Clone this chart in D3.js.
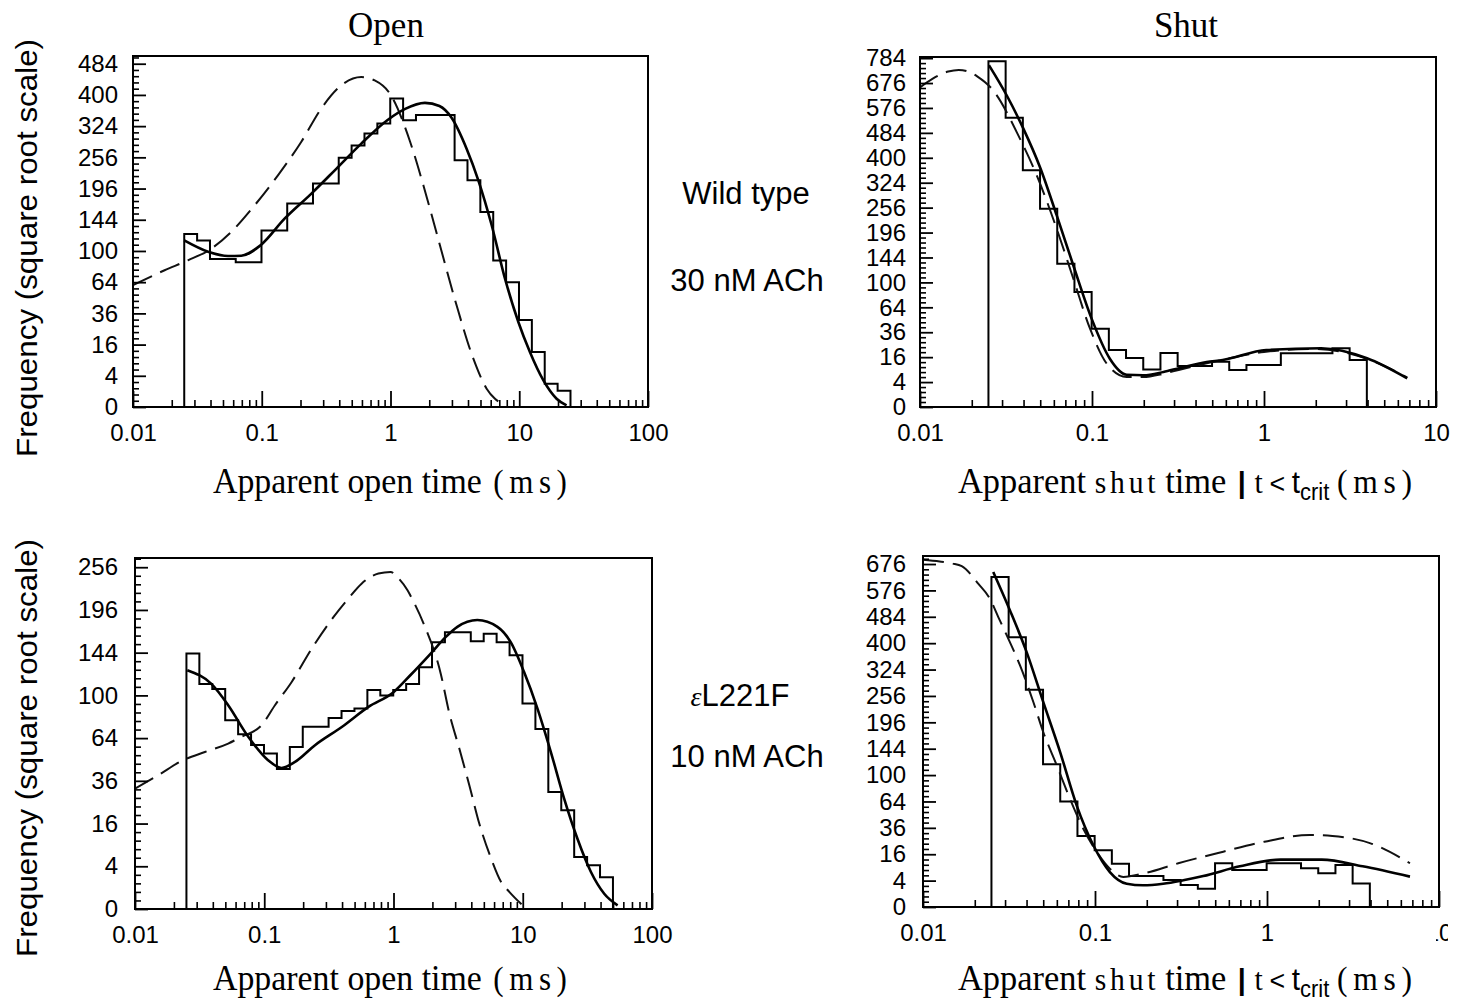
<!DOCTYPE html>
<html>
<head>
<meta charset="utf-8">
<script src="https://cdn.jsdelivr.net/npm/d3@7"></script>
<style>
  body { margin: 0; background: #fff; }
  svg { display: block; }
</style>
</head>
<body>
<svg id="fig" width="1470" height="1004"></svg>
<script>
// Lower edges of the histogram bins (ms): 10 bins per decade starting at the 25 µs resolution
const binEdges = [0.025, 0.03147, 0.03962, 0.04988, 0.06279, 0.07906, 0.09953, 0.1253, 0.1577, 0.1986,
  0.25, 0.3147, 0.3962, 0.4988, 0.6279, 0.7906, 0.9953, 1.253, 1.577, 1.986,
  2.5, 3.147, 3.962, 4.988, 6.279, 7.906, 9.953, 12.53, 15.77, 19.86,
  25, 31.47, 39.62, 49.88, 62.79];

// Tick values
const xTicksOpen = [0.01, 0.1, 1, 10, 100];
const xTicksShut = [0.01, 0.1, 1, 10];
const yTicksOpenWT = [0, 4, 16, 36, 64, 100, 144, 196, 256, 324, 400, 484];
const yTicksShutWT = [0, 4, 16, 36, 64, 100, 144, 196, 256, 324, 400, 484, 576, 676, 784];
const yTicksOpenMut = [0, 4, 16, 36, 64, 100, 144, 196, 256];
const yTicksShutMut = [0, 4, 16, 36, 64, 100, 144, 196, 256, 324, 400, 484, 576, 676];

// Wild type, 30 nM ACh — apparent open times
const openWTCounts = [123, 114, 90, 90, 86, 86, 128, 128, 170, 170, 205, 205, 255, 281, 307, 330, 391, 338,
  350, 350, 350, 250, 211, 156, 88, 64, 31, 12.4, 2.2, 1.1];
const openWTFit = [[0.025, 114], [0.0383, 99], [0.0547, 93.7], [0.0694, 94], [0.098, 107.5], [0.151, 146],
  [0.243, 187], [0.379, 233], [0.593, 285], [0.955, 339], [1.3, 365], [1.85, 380], [2.4, 372], [2.99, 343],
  [3.9, 274], [4.81, 211], [6.1, 136], [7.75, 67.6], [9.84, 29.7], [12.1, 12.4], [15.4, 2.9], [19.5, 0.28], [23.3, 0.01]];
const openWTPred = [[0.01, 61], [0.0176, 76.8], [0.0267, 88.4], [0.0406, 103], [0.058, 126], [0.088, 167],
  [0.134, 221], [0.203, 289], [0.29, 366], [0.415, 425], [0.593, 447], [0.754, 438], [0.99, 403], [1.42, 289],
  [1.8, 202], [2.42, 107.5], [3.26, 42.5], [4.4, 9.6], [5.58, 1.38], [6.48, 0.28], [7.75, 0.016]];

// Wild type — apparent shut times (t < tcrit)
const shutWTCounts = [770, 539, 361, 253, 132, 85, 39.5, 21, 15.5, 9, 18.7, 10.8, 10.8, 13.2, 8.8, 11.4,
  11.4, 18.6, 18.6, 18.6, 22.2, 14.2];
const shutWTFit = [[0.0252, 752], [0.0319, 626], [0.0399, 499], [0.0498, 371], [0.0623, 237], [0.0779, 129],
  [0.0996, 50], [0.127, 15], [0.159, 6.7], [0.199, 6.5], [0.26, 7.9], [0.324, 9.8], [0.464, 13], [0.575, 14.2],
  [1.03, 20.9], [2.15, 22.2], [3.97, 15.3], [6.8, 5.3]];
const shutWTPred = [[0.01, 658], [0.0118, 693], [0.0146, 725], [0.0168, 732], [0.0195, 722], [0.0216, 703],
  [0.0261, 653], [0.0381, 464], [0.0477, 346], [0.0623, 205], [0.0779, 106], [0.0974, 39.5], [0.122, 12],
  [0.159, 5.8], [0.198, 5.8], [0.259, 7.1], [0.3, 8.3], [0.5, 13], [1, 19.5], [2, 21.7], [4, 14.8], [6.8, 5.6]];

// εL221F, 10 nM ACh — apparent open times
const openMutCounts = [143, 111, 106, 78, 67, 59, 53, 43, 57.6, 72.7, 72.7, 80, 86, 88, 105, 100, 105, 111,
  128, 156, 168, 168, 157, 166, 156, 141, 92.5, 71, 30, 21.4, 5.9, 4.2, 2.2];
const openMutFit = [[0.0254, 125], [0.039, 111], [0.0526, 91], [0.0752, 65], [0.107, 48.5], [0.136, 43.6],
  [0.173, 47.4], [0.247, 58.8], [0.398, 72.6], [0.64, 89.5], [1.0, 103], [1.355, 120], [1.94, 143], [2.53, 162],
  [3.12, 174.5], [4.45, 183], [6.37, 174.5], [8.07, 156], [10.24, 123], [13, 88], [16.5, 54], [20.9, 26.7],
  [26.5, 10.8], [33.7, 3], [42.7, 0.51], [54.2, 0.03]];
const openMutPred = [[0.01, 31.7], [0.0151, 39.2], [0.0235, 48.5], [0.0347, 54], [0.0526, 60], [0.0667, 65],
  [0.0953, 74], [0.121, 91], [0.163, 113], [0.233, 148.6], [0.344, 187], [0.446, 211], [0.566, 232],
  [0.765, 246.7], [0.948, 249], [1.09, 240], [1.28, 223], [1.43, 207], [1.71, 178.6], [2.32, 121.4],
  [2.69, 85], [3.23, 56.4], [3.86, 33.6], [4.61, 16], [5.69, 5.6], [6.8, 1.6], [7.9, 0.63], [9.97, 0.03]];

// εL221F — apparent shut times (t < tcrit)
const shutMutCounts = [626, 418, 271, 117, 64, 29, 18.5, 10.8, 5.5, 5.5, 4.2, 2.8, 1.9, 11, 7.9, 7.9, 11, 11,
  8.6, 6.5, 10.1, 3.2];
const shutMutFit = [[0.0256, 645], [0.032, 506], [0.04, 374], [0.05, 241.6], [0.0627, 138], [0.0782, 59.4],
  [0.0978, 21.9], [0.122, 7], [0.153, 3.1], [0.19, 2.7], [0.249, 3.1], [0.326, 4.1], [0.426, 5.5], [0.695, 9.5],
  [1.2, 12.9], [2.08, 12.9], [3.6, 9.5], [6.78, 5.3]];
const shutMutPred = [[0.01, 693], [0.0125, 686], [0.0148, 678], [0.0168, 668], [0.021, 600], [0.0245, 546],
  [0.0274, 483], [0.0307, 424], [0.0366, 336], [0.0438, 241.6], [0.05, 176], [0.06, 115], [0.0715, 67.4],
  [0.0855, 35.2], [0.1024, 17.4], [0.122, 8.4], [0.146, 5.2], [0.19, 6.4], [0.305, 11], [0.557, 17.6],
  [0.965, 24.5], [1.77, 29.8], [2.4, 29], [4.0, 23.3], [6.78, 11]];

// Layout of the four panels
const panels = [
  { key: "oWT", box: { l: 133, r: 648, t: 56, b: 407 }, xMax: 100, yMax: 506, xTicks: xTicksOpen, yTicks: yTicksOpenWT,
    counts: openWTCounts, fit: openWTFit, pred: openWTPred, yPad: 15 },
  { key: "sWT", box: { l: 920, r: 1436, t: 57, b: 407 }, xMax: 10, yMax: 789, xTicks: xTicksShut, yTicks: yTicksShutWT,
    counts: shutWTCounts, fit: shutWTFit, pred: shutWTPred, yPad: 14 },
  { key: "oMut", box: { l: 135, r: 652, t: 558, b: 909 }, xMax: 100, yMax: 270, xTicks: xTicksOpen, yTicks: yTicksOpenMut,
    counts: openMutCounts, fit: openMutFit, pred: openMutPred, yPad: 17 },
  { key: "sMut", box: { l: 923, r: 1439, t: 556, b: 907 }, xMax: 10, yMax: 708, xTicks: xTicksShut, yTicks: yTicksShutMut,
    counts: shutMutCounts, fit: shutMutFit, pred: shutMutPred, yPad: 17, clipLastLabel: true }
];

const svg = d3.select("#fig");
const defs = svg.append("defs");
const SANS = "'Liberation Sans', Arial, Helvetica, sans-serif";
const SERIF = "'Liberation Serif', 'Times New Roman', serif";

function histPoints(counts) {
  const pts = [[binEdges[0], 0]];
  counts.forEach((c, i) => { pts.push([binEdges[i], c]); pts.push([binEdges[i + 1], c]); });
  pts.push([binEdges[counts.length], 0]);
  return pts;
}

panels.forEach(p => {
  const { l, r, t, b } = p.box;
  const x = d3.scaleLog().domain([0.01, p.xMax]).range([l, r]);
  const y = d3.scaleSqrt().domain([0, p.yMax]).range([b, t]);
  const g = svg.append("g");

  defs.append("clipPath").attr("id", "clip-" + p.key)
    .append("rect").attr("x", l).attr("y", t).attr("width", r - l).attr("height", b - t);

  const line = d3.line().x(d => x(d[0])).y(d => y(d[1]));
  const smooth = d3.line().x(d => x(d[0])).y(d => y(d[1])).curve(d3.curveMonotoneX);

  const plot = g.append("g").attr("clip-path", `url(#clip-${p.key})`);

  // histogram of observed intervals
  plot.append("path").attr("d", line(histPoints(p.counts)))
    .attr("fill", "none").attr("stroke", "#000").attr("stroke-width", 2)
    .attr("stroke-linejoin", "miter");
  // predicted distribution (dashed)
  plot.append("path").attr("d", smooth(p.pred))
    .attr("fill", "none").attr("stroke", "#111").attr("stroke-width", 2)
    .attr("stroke-dasharray", "21,9");
  // fitted distribution (solid)
  plot.append("path").attr("d", smooth(p.fit))
    .attr("fill", "none").attr("stroke", "#000").attr("stroke-width", 2.6);

  // frame
  g.append("rect").attr("x", l).attr("y", t).attr("width", r - l).attr("height", b - t)
    .attr("fill", "none").attr("stroke", "#000").attr("stroke-width", 2);

  // x axis: minor log ticks pointing inward
  const minorX = [];
  for (let d = 0.01; d < p.xMax * 0.999; d *= 10) {
    for (let m = 2; m <= 9; m++) minorX.push(+(m * d).toPrecision(3));
  }
  const xMinorAxis = d3.axisBottom(x).tickValues(minorX).tickSize(-7).tickFormat("");
  g.append("g").attr("transform", `translate(0,${b})`).call(xMinorAxis)
    .call(s => s.select(".domain").remove())
    .selectAll("line").attr("stroke-width", 1.6);

  const xAxis = d3.axisBottom(x).tickValues(p.xTicks).tickSize(-16).tickPadding(17)
    .tickFormat(d => d >= 1 ? d3.format("d")(d) : String(d));
  const xg = g.append("g").attr("transform", `translate(0,${b})`).call(xAxis);
  xg.select(".domain").remove();
  xg.selectAll("line").attr("stroke-width", 1.8);
  xg.selectAll("text").attr("font-family", SANS).attr("font-size", 24).attr("fill", "#000");
  if (p.clipLastLabel) {
    // the last label of this axis is cut by the right edge
    defs.append("clipPath").attr("id", "clip-lbl-" + p.key)
      .append("rect").attr("x", r - 3).attr("y", b).attr("width", 12).attr("height", 50);
    xg.selectAll(".tick").filter(d => d === p.xMax).select("text").remove();
    g.append("g").attr("clip-path", `url(#clip-lbl-${p.key})`)
      .append("text").attr("x", x(p.xMax)).attr("y", b + 17).attr("dy", "0.71em")
      .attr("text-anchor", "middle").attr("font-family", SANS).attr("font-size", 24).text("10");
  }

  // y axis: sqrt-spaced minor ticks, four between each labelled value
  const minorY = [];
  const sq = p.yTicks.map(Math.sqrt);
  const step = sq[1] - sq[0];
  for (let s = 0; s <= Math.sqrt(p.yMax) + 1e-9; s += step / 5) {
    const v = s * s;
    if (!p.yTicks.some(tk => Math.abs(Math.sqrt(tk) - s) < 1e-6)) minorY.push(v);
  }
  const yMinorAxis = d3.axisLeft(y).tickValues(minorY).tickSize(-6).tickFormat("");
  g.append("g").attr("transform", `translate(${l},0)`).call(yMinorAxis)
    .call(s => s.select(".domain").remove())
    .selectAll("line").attr("stroke-width", 1.6);

  const yAxis = d3.axisLeft(y).tickValues(p.yTicks).tickSize(-13).tickPadding(p.yPad).tickFormat(d3.format("d"));
  const yg = g.append("g").attr("transform", `translate(${l},0)`).call(yAxis);
  yg.select(".domain").remove();
  yg.selectAll("line").attr("stroke-width", 1.8);
  yg.selectAll("text").attr("font-family", SANS).attr("font-size", 24).attr("fill", "#000");
});

// Column titles
svg.append("text").attr("x", 386).attr("y", 37).attr("text-anchor", "middle")
  .attr("font-family", SERIF).attr("font-size", 35).text("Open");
svg.append("text").attr("x", 1186).attr("y", 37).attr("text-anchor", "middle")
  .attr("font-family", SERIF).attr("font-size", 35).text("Shut");

// Y axis titles
[248, 748].forEach(cy => {
  svg.append("text").attr("transform", `translate(37,${cy}) rotate(-90)`)
    .attr("text-anchor", "middle").attr("font-family", SANS).attr("font-size", 30)
    .attr("textLength", 418).attr("lengthAdjust", "spacingAndGlyphs")
    .text("Frequency (square root scale)");
});

// X axis titles: words laid out one after another, then the whole row is condensed to its width
function titleRow(x0, base, width, pieces) {
  const g = svg.append("g");
  let cx = 0;
  pieces.forEach((pc, i) => {
    const t = g.append("text").attr("x", cx).attr("y", pc.dy || 0)
      .attr("font-family", pc.family || SERIF).attr("font-size", pc.size || 36)
      .text(pc.text);
    if (pc.weight) t.attr("font-weight", pc.weight);
    if (pc.ls) t.attr("letter-spacing", pc.ls);
    const w = t.node().getComputedTextLength() - (pc.ls || 0);
    cx += w + (i < pieces.length - 1 ? (pc.gap || 0) : 0);
  });
  g.attr("transform", `translate(${x0},${base}) scale(${width / cx},1)`);
}
const openPieces = [
  { text: "Apparent open time", gap: 12 },
  { text: "(ms)", size: 33, ls: 6 }
];
const shutPieces = [
  { text: "Apparent", gap: 9 },
  { text: "shut", size: 31, ls: 4, gap: 10 },
  { text: "time", gap: 12 },
  { text: "|", family: SANS, size: 30, weight: "bold", gap: 9 },
  { text: "t", size: 31, gap: 7 },
  { text: "<", family: SANS, size: 28, gap: 7 },
  { text: "t", family: SANS, size: 31, gap: 0 },
  { text: "crit", family: SANS, size: 23, dy: 7, gap: 8 },
  { text: "(ms)", size: 33, ls: 6 }
];
titleRow(213, 493, 354, openPieces);
titleRow(958, 493, 454, shutPieces);
titleRow(213, 990, 354, openPieces);
titleRow(958, 990, 454, shutPieces);

// Condition labels
const condStyle = s => s.attr("text-anchor", "middle").attr("font-family", SANS).attr("font-size", 31);
svg.append("text").attr("x", 746).attr("y", 204).call(condStyle).text("Wild type");
svg.append("text").attr("x", 747).attr("y", 291).call(condStyle).text("30 nM ACh");
const mut = svg.append("text").attr("x", 740).attr("y", 706).call(condStyle);
mut.append("tspan").attr("font-family", SERIF).attr("font-style", "italic").attr("font-size", 28).text("ε");
mut.append("tspan").text("L221F");
svg.append("text").attr("x", 747).attr("y", 767).call(condStyle).text("10 nM ACh");
</script>
</body>
</html>
